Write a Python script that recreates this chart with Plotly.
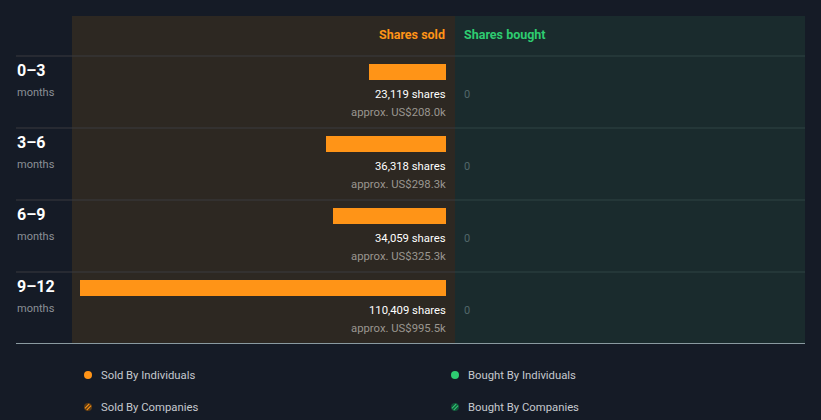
import plotly.graph_objects as go

periods = ["0\u20133", "3\u20136", "6\u20139", "9\u201312"]
shares_sold = [23119, 36318, 34059, 110409]
value_sold = ["approx. US$208.0k", "approx. US$298.3k", "approx. US$325.3k", "approx. US$995.5k"]
shares_bought = [0, 0, 0, 0]
legend_labels = ["Sold By Individuals", "Sold By Companies", "Bought By Individuals", "Bought By Companies"]

W, H = 821, 420
BG = "#151b26"
SOLD_BG = "#2d2822"
BOUGHT_BG = "#1a2b2d"
ORANGE = "#ff9417"
GREEN = "#2ecc71"
FONT = "Roboto"
PAD = 1.5  # annotation internal padding compensation

def px(x):
    return x / W

def py(y):
    return 1 - y / H

fig = go.Figure()
fig.add_trace(go.Bar(
    x=shares_sold, y=periods, orientation="h", width=0.222,
    marker=dict(color=ORANGE, line=dict(width=0)),
    hoverinfo="skip", showlegend=False,
))

shapes = []
shapes.append(dict(type="rect", xref="paper", yref="paper", x0=px(72), x1=px(455), y0=py(343), y1=py(16),
                   fillcolor=SOLD_BG, line=dict(width=0), layer="below"))
shapes.append(dict(type="rect", xref="paper", yref="paper", x0=px(455), x1=px(805), y0=py(343), y1=py(16),
                   fillcolor=BOUGHT_BG, line=dict(width=0), layer="below"))
for i in range(len(periods)):
    yy = 56 + 72 * i
    shapes.append(dict(type="line", xref="paper", yref="paper", x0=px(16), x1=px(455), y0=py(yy), y1=py(yy),
                       line=dict(color="#3b3b3e", width=1), layer="below"))
    shapes.append(dict(type="line", xref="paper", yref="paper", x0=px(455), x1=px(805), y0=py(yy), y1=py(yy),
                       line=dict(color="#2e4444", width=1), layer="below"))
shapes.append(dict(type="line", xref="paper", yref="paper", x0=px(16), x1=px(805), y0=py(343.5), y1=py(343.5),
                   line=dict(color="#8a9aa0", width=1)))

annotations = []
annotations.append(dict(text="<b>Shares sold</b>", xref="paper", yref="paper", x=px(446), y=py(34), xshift=PAD,
                        xanchor="right", yanchor="middle", showarrow=False,
                        font=dict(family=FONT, size=12.5, color=ORANGE)))
annotations.append(dict(text="<b>Shares bought</b>", xref="paper", yref="paper", x=px(463), y=py(34), xshift=-PAD,
                        xanchor="left", yanchor="middle", showarrow=False,
                        font=dict(family=FONT, size=12.5, color=GREEN)))

for p, s, v, b in zip(periods, shares_sold, value_sold, shares_bought):
    annotations.append(dict(text=f"<b>{p}</b>", xref="paper", yref="y", x=px(16), xshift=-PAD, y=p, yshift=2,
                            xanchor="left", yanchor="middle", showarrow=False,
                            font=dict(family=FONT, size=16, color="#ffffff")))
    annotations.append(dict(text="months", xref="paper", yref="y", x=px(16), xshift=-PAD, y=p, yshift=-20,
                            xanchor="left", yanchor="middle", showarrow=False,
                            font=dict(family=FONT, size=11, color="#8b9096")))
    annotations.append(dict(text=f"{s:,} shares", xref="x", yref="y", x=0, xshift=PAD, y=p, yshift=-22,
                            xanchor="right", yanchor="middle", showarrow=False,
                            font=dict(family=FONT, size=11.3, color="#ffffff")))
    annotations.append(dict(text=v, xref="x", yref="y", x=0, xshift=PAD, y=p, yshift=-40,
                            xanchor="right", yanchor="middle", showarrow=False,
                            font=dict(family=FONT, size=11.3, color="#9a9690")))
    annotations.append(dict(text=f"{b}", xref="paper", yref="y", x=px(463), xshift=-PAD, y=p, yshift=-22,
                            xanchor="left", yanchor="middle", showarrow=False,
                            font=dict(family=FONT, size=11, color="#52676a")))

legend_pos = [(88, 375), (88, 407), (455, 375), (455, 407)]
legend_colors = [ORANGE, ORANGE, GREEN, GREEN]
legend_dark = ["#5a3a14", "#5a3a14", "#14503a", "#14503a"]
for i, (lab, (lx, ly), col, dk) in enumerate(zip(legend_labels, legend_pos, legend_colors, legend_dark)):
    r = 4
    if i % 2 == 0:
        shapes.append(dict(type="circle", xref="paper", yref="paper", x0=px(lx - r), x1=px(lx + r),
                           y0=py(ly + r), y1=py(ly - r), fillcolor=col, line=dict(width=0)))
    else:
        shapes.append(dict(type="circle", xref="paper", yref="paper", x0=px(lx - r), x1=px(lx + r),
                           y0=py(ly + r), y1=py(ly - r), fillcolor=dk, line=dict(width=0)))
        for d in (-1.8, 1.8):
            shapes.append(dict(type="line", xref="paper", yref="paper",
                               x0=px(lx - 2.2 + d * 0.5), x1=px(lx + 2.2 + d * 0.5),
                               y0=py(ly + 2.2 + d * 0.5), y1=py(ly - 2.2 + d * 0.5),
                               line=dict(color=col, width=1.1)))
    annotations.append(dict(text=lab, xref="paper", yref="paper", x=px(lx + 12), xshift=-PAD, y=py(ly),
                            xanchor="left", yanchor="middle", showarrow=False,
                            font=dict(family=FONT, size=11.3, color="#c5c9ce")))

fig.update_layout(
    width=W, height=H,
    margin=dict(l=0, r=0, t=0, b=0),
    paper_bgcolor=BG, plot_bgcolor="rgba(0,0,0,0)",
    xaxis=dict(domain=[px(80), px(446)], range=[max(shares_sold), 0], visible=False, fixedrange=True),
    yaxis=dict(domain=[0, 1], type="category", categoryarray=periods, range=[H / 72 - 1, -1],
               visible=False, fixedrange=True),
    shapes=shapes, annotations=annotations,
    bargap=0, showlegend=False,
    font=dict(family=FONT),
)

fig.write_html("out.html")
